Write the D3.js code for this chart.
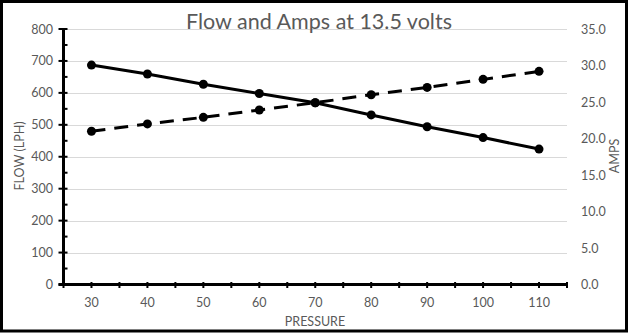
<!DOCTYPE html>
<html><head><meta charset="utf-8">
<script src="https://cdn.jsdelivr.net/npm/d3@7/dist/d3.min.js"></script>
<style>
html,body{margin:0;padding:0;background:#fff;}
svg text{font-family:Lato,"Open Sans",sans-serif;fill:#595959;}
</style>
</head><body>
<svg id="c" width="629" height="333"></svg>
<script>
const pressure = [30, 40, 50, 60, 70, 80, 90, 100, 110];
const flow = [687, 659, 627, 598, 569, 531, 494, 460, 424];
const amps = [21.0, 22.0, 22.9, 23.9, 24.9, 26.0, 27.0, 28.1, 29.2];
const flowTicks = [0, 100, 200, 300, 400, 500, 600, 700, 800];
const ampTicks = [0, 5, 10, 15, 20, 25, 30, 35];
const title = "Flow and Amps at 13.5 volts";
const xTitle = "PRESSURE", yTitle = "FLOW (LPH)", y2Title = "AMPS";

const svg = d3.select("#c");
const L = 63.5, R = 567, T = 29, B = 284.5;

const x = d3.scaleBand().domain(pressure).range([L, R]);
const y = d3.scaleLinear().domain([0, 800]).range([B, T]);
const y2 = d3.scaleLinear().domain([0, 35]).range([B, T]);

svg.append("rect").attr("x",1.5).attr("y",1.5).attr("width",625).attr("height",329.5)
  .attr("fill","#fff").attr("stroke","#000").attr("stroke-width",3);

// gridlines
svg.append("g").selectAll("line").data(flowTicks.filter(d=>d>0)).join("line")
  .attr("x1",L).attr("x2",R).attr("y1",d=>Math.round(y(d))+0.5).attr("y2",d=>Math.round(y(d))+0.5)
  .attr("stroke","#d9d9d9").attr("stroke-width",1);

// left axis
const gl = svg.append("g");
gl.append("line").attr("x1",L).attr("x2",L).attr("y1",T).attr("y2",B).attr("stroke","#000").attr("stroke-width",3);
gl.selectAll(".maj").data(flowTicks).join("line")
  .attr("x1",L-5).attr("x2",L+4).attr("y1",d=>y(d)).attr("y2",d=>y(d)).attr("stroke","#000").attr("stroke-width",2);
gl.selectAll(".min").data(flowTicks.slice(0,-1).map(d=>d+50)).join("line")
  .attr("x1",L).attr("x2",L+4).attr("y1",d=>y(d)).attr("y2",d=>y(d)).attr("stroke","#000").attr("stroke-width",2);
gl.selectAll("text").data(flowTicks).join("text")
  .attr("x",53).attr("y",d=>y(d)+4.5).attr("text-anchor","end").attr("font-size",12.5).text(d=>d);

// right axis labels
svg.append("g").selectAll("text").data(ampTicks).join("text")
  .attr("x",581).attr("y",d=>y2(d)+4.5).attr("text-anchor","start").attr("font-size",12.5).text(d=>d.toFixed(1));

// bottom axis
const gb = svg.append("g");
const edges = pressure.map(p=>x(p)).concat([R]);
const centers = pressure.map(p=>x(p)+x.bandwidth()/2);
gb.selectAll(".t").data(edges.concat(centers)).join("line")
  .attr("x1",d=>d).attr("x2",d=>d).attr("y1",B-2.5).attr("y2",B+3.5).attr("stroke","#000").attr("stroke-width",2);
gb.append("line").attr("x1",L-5).attr("x2",R).attr("y1",B).attr("y2",B).attr("stroke","#000").attr("stroke-width",3);
gb.selectAll("text").data(pressure).join("text")
  .attr("x",d=>x(d)+x.bandwidth()/2).attr("y",307).attr("text-anchor","middle").attr("font-size",12.5).text(d=>d);

// lines
const cx = d=>x(d)+x.bandwidth()/2;
const flowLine = d3.line().x((d,i)=>cx(pressure[i])).y(d=>y(d));
const ampLine = d3.line().x((d,i)=>cx(pressure[i])).y(d=>y2(d));
svg.append("path").attr("d",ampLine(amps)).attr("fill","none").attr("stroke","#000")
  .attr("stroke-width",3).attr("stroke-dasharray","14,9");
svg.append("path").attr("d",flowLine(flow)).attr("fill","none").attr("stroke","#000").attr("stroke-width",3);
svg.append("g").selectAll("circle").data(amps).join("circle")
  .attr("cx",(d,i)=>cx(pressure[i])).attr("cy",d=>y2(d)).attr("r",4.5).attr("fill","#000");
svg.append("g").selectAll("circle").data(flow).join("circle")
  .attr("cx",(d,i)=>cx(pressure[i])).attr("cy",d=>y(d)).attr("r",4.5).attr("fill","#000");

// titles
svg.append("text").attr("x",319).attr("y",29).attr("text-anchor","middle").attr("font-size",21.5).text(title);
svg.append("text").attr("x",315).attr("y",326).attr("text-anchor","middle").attr("font-size",12.5).text(xTitle);
svg.append("text").attr("transform","translate(24,156) rotate(-90)").attr("text-anchor","middle").attr("font-size",12.5).text(yTitle);
svg.append("text").attr("transform","translate(619,156) rotate(-90)").attr("text-anchor","middle").attr("font-size",12.5).text(y2Title);
</script>
</body></html>
